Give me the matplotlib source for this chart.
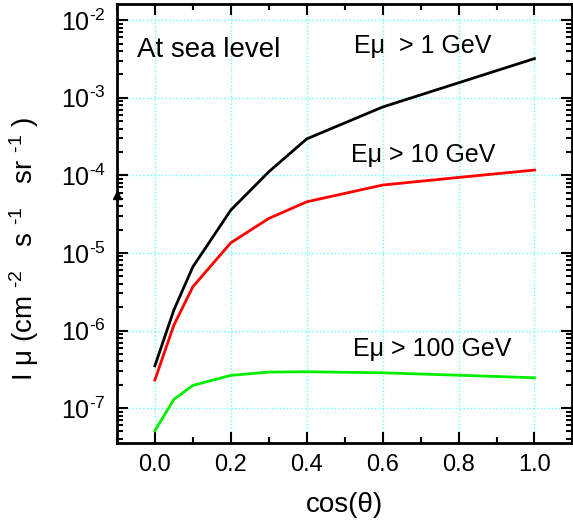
import matplotlib
matplotlib.use("Agg")
import matplotlib.pyplot as plt
from matplotlib.ticker import LogLocator, MultipleLocator, FuncFormatter
import numpy as np

plt.rcParams['font.family'] = ['Liberation Sans', 'DejaVu Sans']
plt.rcParams['mathtext.fontset'] = 'custom'
plt.rcParams['mathtext.rm'] = 'Liberation Sans'
plt.rcParams['mathtext.it'] = 'Liberation Sans'

# cos(theta) points and muon intensities
cos_theta = [0.0, 0.05, 0.1, 0.2, 0.3, 0.4, 0.6, 0.8, 1.0]
i_gt1 = [3.5e-7, 1.83e-6, 6.6e-6, 3.56e-5, 1.11e-4, 2.95e-4, 7.6e-4, 1.56e-3, 3.2e-3]
i_gt10 = [2.3e-7, 1.17e-6, 3.66e-6, 1.35e-5, 2.78e-5, 4.56e-5, 7.5e-5, 9.4e-5, 1.17e-4]
i_gt100 = [5.1e-8, 1.29e-7, 1.96e-7, 2.64e-7, 2.91e-7, 2.94e-7, 2.85e-7, 2.65e-7, 2.46e-7]

fig = plt.figure(figsize=(5.73, 5.28), dpi=100)
ax = fig.add_axes([0.204, 0.161, 0.795, 0.831])

ax.plot(cos_theta, i_gt1, color='black', lw=2)
ax.plot(cos_theta, i_gt10, color='#ff0000', lw=2)
ax.plot(cos_theta, i_gt100, color='#00ee00', lw=2)

ax.set_yscale('log')
ax.set_xlim(-0.1, 1.1)
ax.set_ylim(10**-7.45, 10**-1.794)


def log_label(y, pos):
    # hyphen instead of a long minus, like the original
    return r'$10^{\text{-%d}}$' % round(-np.log10(y))


ax.xaxis.set_major_locator(MultipleLocator(0.2))
ax.xaxis.set_minor_locator(MultipleLocator(0.1))
ax.xaxis.set_major_formatter(FuncFormatter(lambda x, pos: '%.1f' % x))
ax.yaxis.set_major_locator(LogLocator(base=10, numticks=20))
ax.yaxis.set_minor_locator(LogLocator(base=10, subs=range(2, 10), numticks=20))
ax.yaxis.set_major_formatter(FuncFormatter(log_label))

ax.tick_params(which='both', direction='in', top=True, right=True, width=1.5, labelsize=17)
ax.tick_params(axis='y', which='major', labelsize=18)
ax.tick_params(which='major', length=8, pad=8)
ax.tick_params(which='minor', length=4)
ax.tick_params(axis='y', which='minor', labelleft=False)
for sp in ax.spines.values():
    sp.set_linewidth(2)

ax.grid(True, which='major', color='#66ffff', linestyle=':', linewidth=1)

ax.set_xlabel('cos(θ)', fontsize=20)
ax.xaxis.set_label_coords(0.5, -0.112)
ax.set_ylabel(r'I μ (cm $^{\text{-2}}$   s $^{\text{-1}}$   sr $^{\text{-1}}$ )', fontsize=20)
ax.yaxis.set_label_coords(-0.166, 0.442)

ax.text(-0.047, 3.37e-3, 'At sea level', fontsize=20, va='baseline', ha='left')
ax.text(0.525, 3.73e-3, 'Eμ  > 1 GeV', fontsize=18, va='baseline', ha='left')
ax.text(0.516, 1.49e-4, 'Eμ > 10 GeV', fontsize=18, va='baseline', ha='left')
ax.text(0.523, 4.68e-7, 'Eμ > 100 GeV', fontsize=18, va='baseline', ha='left')

# small triangle artifact on the left axis
ax.plot([-0.1], [5.6e-5], marker='^', color='black', markersize=6, clip_on=False)

fig.savefig('out.png', dpi=100)
